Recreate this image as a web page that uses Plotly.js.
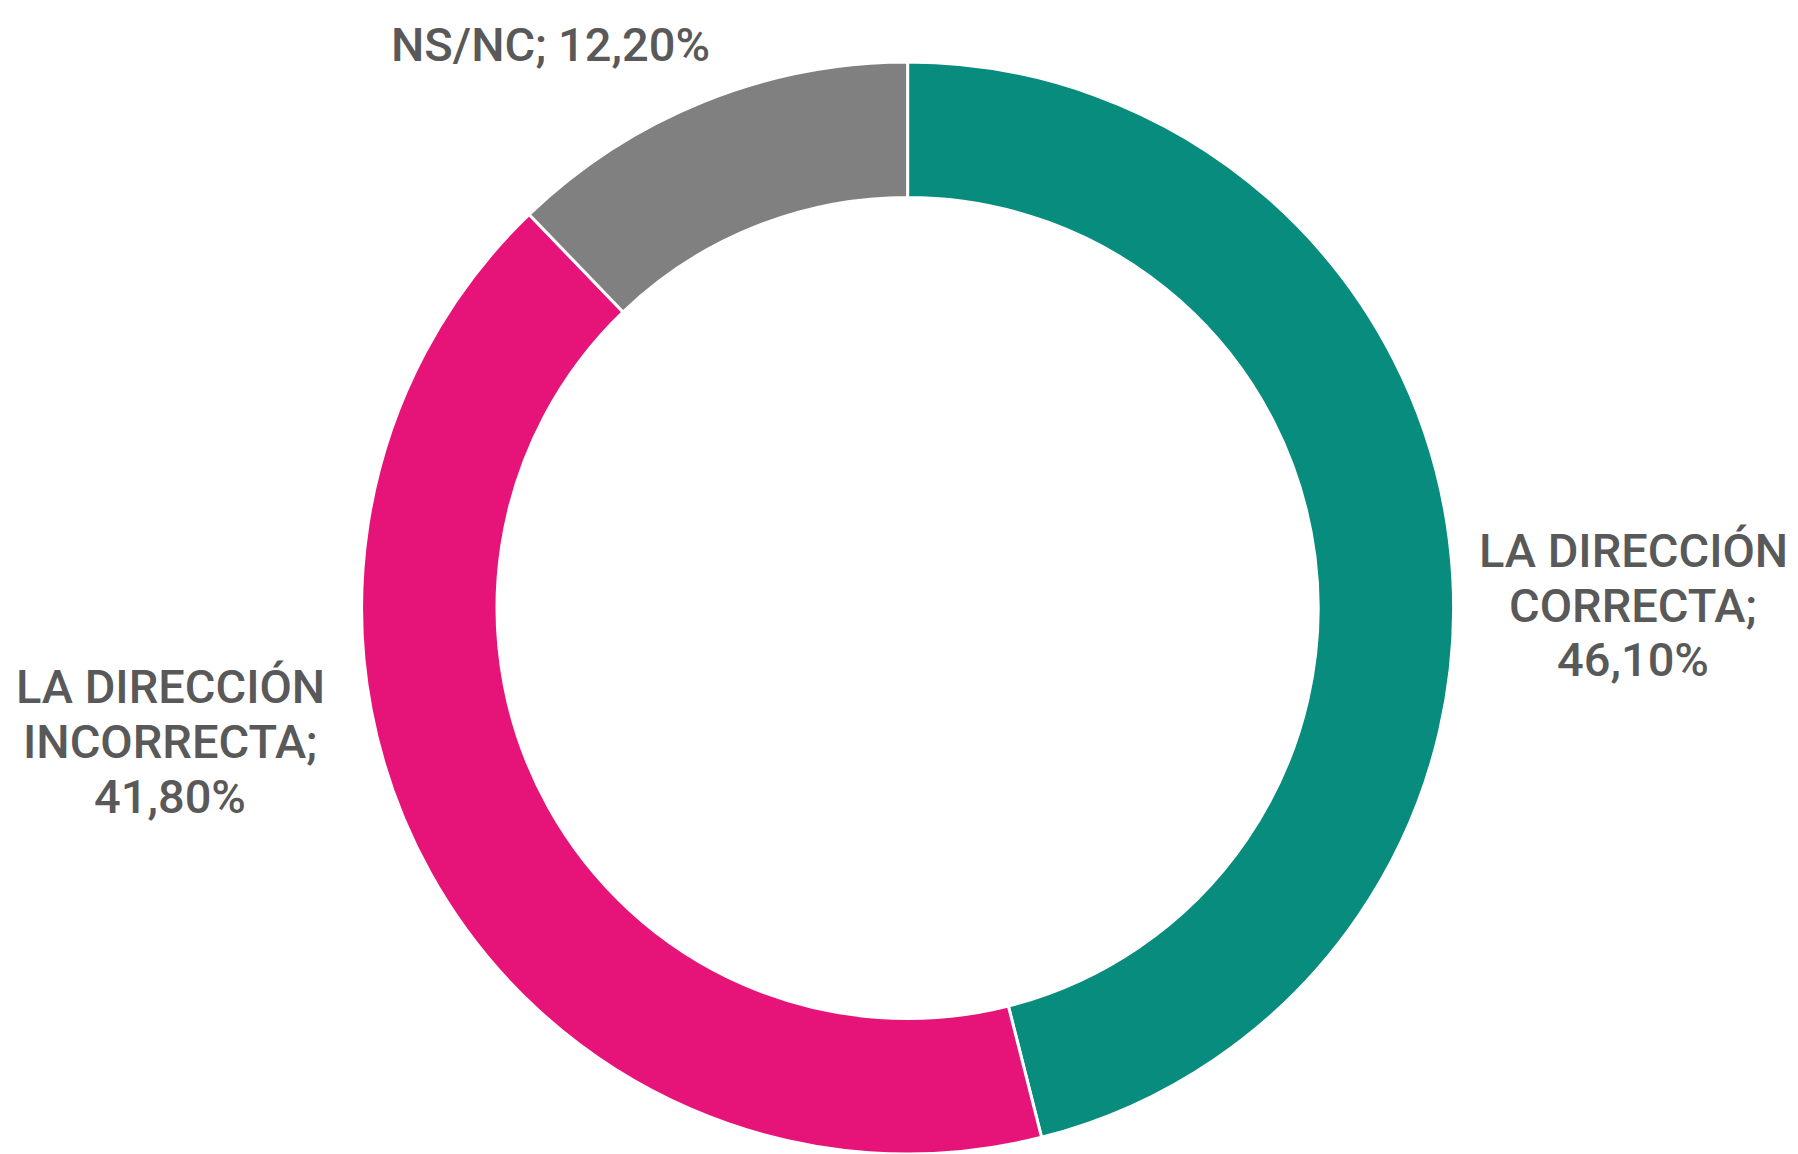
<!DOCTYPE html>
<html>
<head>
<meta charset="utf-8">
<script src="https://cdn.plot.ly/plotly-3.0.1.min.js"></script>
<style>html,body{margin:0;padding:0;background:#fff;}#chart{width:1798px;height:1154px;}</style>
</head>
<body>
<div id="chart"></div>
<script>
const categories = ["LA DIRECCIÓN CORRECTA", "LA DIRECCIÓN INCORRECTA", "NS/NC"];
const values = [46.1, 41.8, 12.2];
const labelLines = [["LA DIRECCIÓN", "CORRECTA;"], ["LA DIRECCIÓN", "INCORRECTA;"], ["NS/NC;"]];
const colors = ["#078C7E", "#E61478", "#808080"];

function fmt(v) { return v.toFixed(2).replace(".", ",") + "%"; }

const W = 1798, H = 1154;
// label block centre (px) and line pitch
const labelPos = [[1633, 605], [170, 741], [550, 44]];
const pitch = 55;

const annotations = [];
categories.forEach((c, i) => {
  const lines = labelLines[i].length > 1
    ? labelLines[i].concat([fmt(values[i])])
    : [labelLines[i][0] + " " + fmt(values[i])];
  const n = lines.length;
  lines.forEach((t, k) => {
    const py = labelPos[i][1] + (k - (n - 1) / 2) * pitch;
    annotations.push({
      text: t, xref: "paper", yref: "paper",
      x: labelPos[i][0] / W, y: 1 - py / H,
      xanchor: "center", yanchor: "middle", showarrow: false, align: "center",
      font: {family: "Roboto, 'Noto Sans', sans-serif", size: 47, weight: 500, color: "#595959"}
    });
  });
});

const trace = {
  type: "pie", labels: categories, values: values, hole: 0.752,
  sort: false, direction: "clockwise", rotation: 0,
  marker: {colors: colors, line: {color: "#ffffff", width: 3}},
  textinfo: "none", hoverinfo: "label+value", showlegend: false,
  domain: {x: [360.6 / W, 1454.6 / W], y: [0 / H, 1 - 62 / H]}
};

Plotly.newPlot("chart", [trace], {
  width: W, height: H, margin: {l: 0, r: 0, t: 0, b: 0},
  paper_bgcolor: "#ffffff", plot_bgcolor: "#ffffff",
  showlegend: false, annotations: annotations
}, {displayModeBar: false, staticPlot: true});
</script>
</body>
</html>
